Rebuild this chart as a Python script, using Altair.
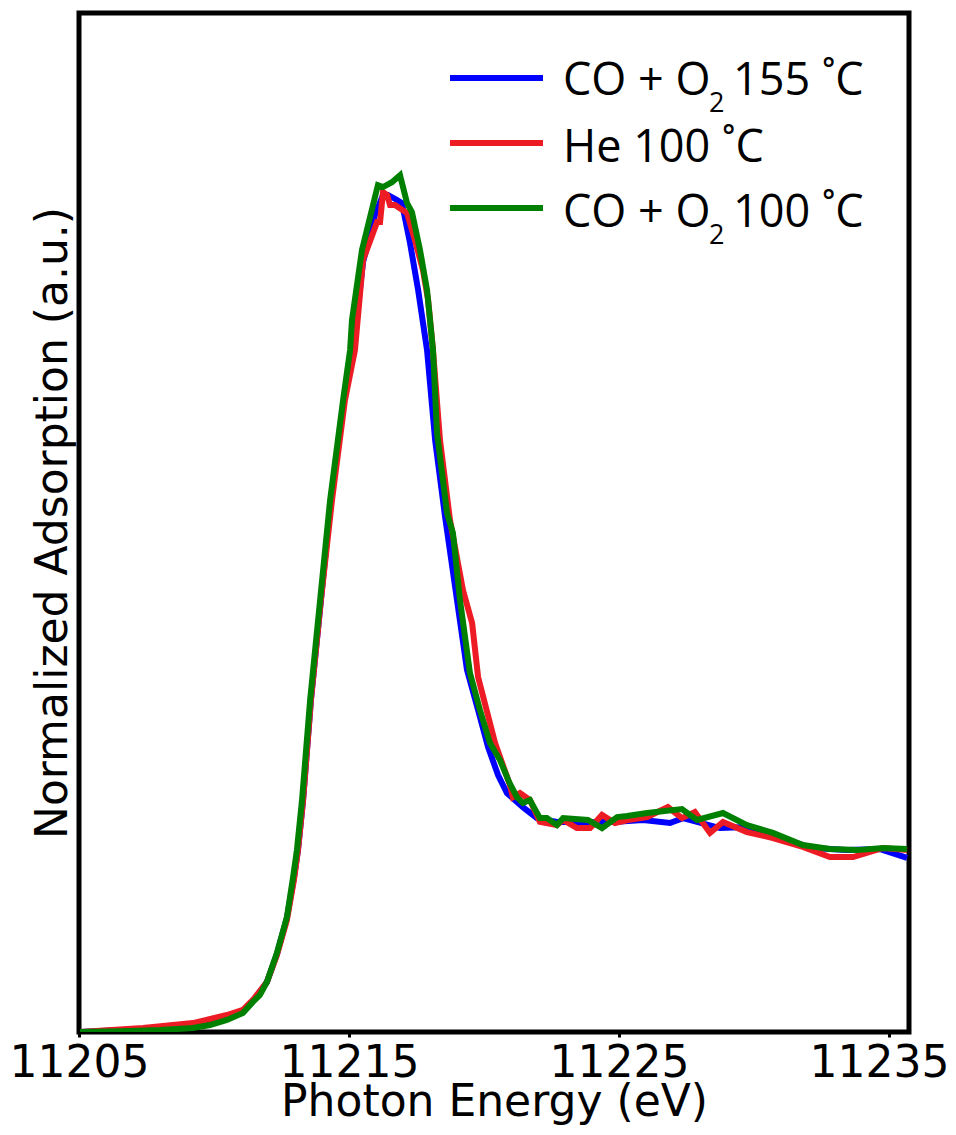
import altair as alt
import pandas as pd

# ---- data ----
blue_ev = [11205.04, 11207.37, 11209.22, 11210.48, 11211.07, 11211.44, 11211.96, 11212.33, 11212.70,
           11212.96, 11213.11, 11213.30, 11213.59, 11213.96, 11214.33, 11214.81, 11215.15, 11215.52,
           11215.96, 11216.26, 11216.44, 11216.78, 11216.96, 11217.26, 11217.56, 11217.89, 11218.19,
           11218.56, 11219.00, 11219.37, 11219.78, 11220.15, 11220.52, 11220.85, 11221.44, 11221.96,
           11222.70, 11223.56, 11224.78, 11225.89, 11226.89, 11227.37, 11228.74, 11229.74, 11230.96,
           11232.19, 11233.44, 11234.67, 11235.67]
blue_mu = [0.000, 0.014, 0.033, 0.066, 0.099, 0.146, 0.236, 0.368, 0.538,
           0.726, 0.858, 1.094, 1.566, 2.038, 2.509, 2.981, 3.217, 3.632,
           3.854, 3.948, 3.948, 3.925, 3.910, 3.722, 3.500, 3.217, 2.792,
           2.429, 2.038, 1.708, 1.519, 1.344, 1.212, 1.127, 1.061, 1.009,
           0.991, 0.991, 0.991, 1.000, 0.986, 1.009, 0.962, 0.967, 0.915,
           0.868, 0.858, 0.863, 0.821]

red_ev = [11205.04, 11207.37, 11209.22, 11210.48, 11211.07, 11211.44, 11211.96, 11212.33, 11212.70,
          11212.96, 11213.11, 11213.30, 11213.59, 11213.96, 11214.37, 11214.85, 11215.22, 11215.52,
          11216.04, 11216.15, 11216.26, 11216.41, 11216.52, 11216.70, 11217.15, 11217.44, 11217.74,
          11217.93, 11218.11, 11218.37, 11218.74, 11219.22, 11219.56, 11219.78, 11220.41, 11220.96,
          11221.07, 11221.33, 11221.70, 11222.07, 11222.70, 11222.93, 11223.44, 11223.93, 11224.37,
          11224.85, 11225.33, 11226.04, 11226.81, 11227.33, 11227.81, 11228.37, 11228.85, 11229.74,
          11230.70, 11231.81, 11232.81, 11233.67, 11234.78, 11235.67]
red_mu = [0.000, 0.019, 0.042, 0.080, 0.104, 0.151, 0.236, 0.363, 0.528,
          0.717, 0.858, 1.094, 1.566, 2.038, 2.509, 2.981, 3.217, 3.642,
          3.821, 3.821, 3.962, 3.948, 3.901, 3.901, 3.863, 3.736, 3.594,
          3.453, 3.217, 2.792, 2.415, 2.085, 1.929, 1.675, 1.363, 1.165,
          1.108, 1.127, 1.094, 0.991, 0.976, 1.000, 0.962, 0.962, 1.024,
          0.986, 1.000, 1.014, 1.061, 1.009, 1.038, 0.939, 0.991, 0.943,
          0.915, 0.873, 0.825, 0.825, 0.868, 0.858]

green_ev = [11205.04, 11206.89, 11208.00, 11209.22, 11209.85, 11210.48, 11211.07, 11211.44, 11211.70,
            11211.96, 11212.33, 11212.70, 11212.93, 11213.07, 11213.26, 11213.56, 11213.93, 11214.30,
            11214.78, 11215.04, 11215.11, 11215.48, 11216.07, 11216.26, 11216.59, 11216.89, 11217.15,
            11217.33, 11217.63, 11217.89, 11218.11, 11218.26, 11218.63, 11218.85, 11219.11, 11219.48,
            11219.85, 11220.22, 11220.59, 11220.93, 11221.22, 11221.44, 11221.70, 11222.07, 11222.33,
            11222.70, 11222.93, 11223.85, 11224.37, 11224.93, 11225.30, 11226.04, 11227.33, 11227.89,
            11228.85, 11229.74, 11230.70, 11231.81, 11232.81, 11233.81, 11234.78, 11235.67]
green_mu = [0.000, 0.005, 0.009, 0.019, 0.033, 0.057, 0.090, 0.142, 0.175,
            0.236, 0.373, 0.542, 0.731, 0.858, 1.094, 1.566, 2.038, 2.509,
            2.981, 3.217, 3.358, 3.689, 3.995, 3.986, 4.009, 4.042, 3.910,
            3.868, 3.689, 3.500, 3.217, 2.825, 2.448, 2.354, 2.038, 1.693,
            1.519, 1.363, 1.283, 1.179, 1.108, 1.080, 1.094, 1.009, 1.009,
            0.976, 1.009, 1.000, 0.962, 1.014, 1.019, 1.033, 1.052, 1.000,
            1.033, 0.976, 0.939, 0.882, 0.863, 0.858, 0.868, 0.863]

x_ticks = [11205, 11215, 11225, 11235]
x_domain = [11205, 11235.74]
y_domain = [0, 4.807]

BLUE = "#0000ff"
RED = "#ed1c24"
GREEN = "#008000"

x_enc = alt.X("ev:Q", scale=alt.Scale(domain=x_domain, nice=False, zero=False),
              axis=alt.Axis(values=x_ticks, format="d", title="Photon Energy (eV)",
                            domain=False, grid=False, ticks=True, tickSize=5, tickWidth=3,
                            tickColor="black", labelFont="DejaVu Sans", labelFontSize=44,
                            labelColor="black", labelPadding=4, labelFlush=False,
                            labelOverlap=False, labelBound=False,
                            labelOffset={"condition": {"test": "datum.value == 11235", "value": -10},
                                         "value": 0},
                            titleFont="DejaVu Sans",
                            titleFontSize=44, titleFontWeight="normal", titleColor="black",
                            titlePadding=-5))
y_enc = alt.Y("mu:Q", scale=alt.Scale(domain=y_domain, nice=False, zero=False),
              axis=alt.Axis(title="Normalized Adsorption (a.u.)", labels=False, ticks=False,
                            domain=False, grid=False, titleFont="DejaVu Sans", titleFontSize=44,
                            titleFontWeight="normal", titleColor="black", titlePadding=4))


def series(ev, mu, color):
    df = pd.DataFrame({"ev": ev, "mu": mu})
    return alt.Chart(df).mark_line(color=color, strokeWidth=6, strokeJoin="miter",
                                   clip=True).encode(x=x_enc, y=y_enc)


one = alt.Data(values=[{"a": 1}])
LEG_FONT = "Open Sans"


def leg_line(y, color):
    return alt.Chart(one).mark_rule(color=color, strokeWidth=6).encode(
        x=alt.value(371), x2=alt.value(464), y=alt.value(y))


def leg_text(txt, x, y, size=45):
    return alt.Chart(one).mark_text(text=txt, font=LEG_FONT, fontSize=size, color="black",
                                    align="left", baseline="alphabetic").encode(
        x=alt.value(x), y=alt.value(y))


layers = [
    series(blue_ev, blue_mu, BLUE),
    series(red_ev, red_mu, RED),
    series(green_ev, green_mu, GREEN),
    leg_line(65, BLUE), leg_line(130, RED), leg_line(195, GREEN),
    leg_text("CO + O", 484, 82), leg_text("2", 630, 99, 27), leg_text("155 ˚C", 654, 82),
    leg_text("He 100 ˚C", 484, 149),
    leg_text("CO + O", 484, 214), leg_text("2", 630, 231, 27), leg_text("100 ˚C", 654, 214),
]

chart = alt.layer(*layers).properties(
    width=830, height=1019,
    background="white",
    autosize=alt.AutoSizeParams(type="none"),
    padding={"left": 71, "top": 5, "right": 39, "bottom": 95},
).configure_view(stroke="black", strokeWidth=5)

chart.save("out.html", embed_options={"renderer": "svg", "actions": False})
